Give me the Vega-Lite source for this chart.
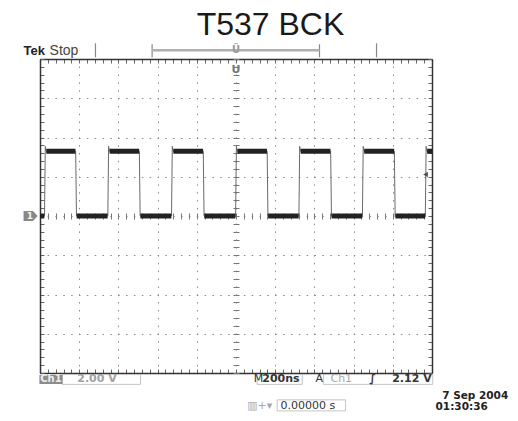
{
  "$schema": "https://vega.github.io/schema/vega-lite/v6.json",
  "width": 392,
  "height": 314,
  "autosize": {"type": "none"},
  "padding": {"left": 40, "top": 59, "right": 86, "bottom": 48},
  "background": "white",
  "config": {
    "view": {"stroke": null},
    "axis": {"labels": false, "grid": false, "domainColor": "#333", "domainWidth": 1.5, "tickColor": "#666", "tickWidth": 1, "gridColor": "#8a8a8a", "gridWidth": 1}
  },
  "resolve": {"axis": {"x": "independent", "y": "independent"}},
  "datasets": {
    "wave": [
      {"t": -1000, "v": 0}, {"t": -977, "v": 0}, {"t": -973, "v": 3.55}, {"t": -969, "v": 3.3}, {"t": -818, "v": 3.3}, {"t": -814, "v": 0},
      {"t": -654, "v": 0}, {"t": -650, "v": 3.55}, {"t": -646, "v": 3.3}, {"t": -493, "v": 3.3}, {"t": -489, "v": 0},
      {"t": -329, "v": 0}, {"t": -325, "v": 3.55}, {"t": -321, "v": 3.3}, {"t": -167, "v": 3.3}, {"t": -163, "v": 0},
      {"t": -2, "v": 0}, {"t": 2, "v": 3.55}, {"t": 6, "v": 3.3}, {"t": 159, "v": 3.3}, {"t": 163, "v": 0},
      {"t": 321, "v": 0}, {"t": 325, "v": 3.55}, {"t": 329, "v": 3.3}, {"t": 483, "v": 3.3}, {"t": 487, "v": 0},
      {"t": 645, "v": 0}, {"t": 649, "v": 3.55}, {"t": 653, "v": 3.3}, {"t": 808, "v": 3.3}, {"t": 812, "v": 0},
      {"t": 966, "v": 0}, {"t": 970, "v": 3.55}, {"t": 974, "v": 3.3}, {"t": 1000, "v": 3.3}
    ],
    "plateaus": [
      {"t1": -968, "t2": -819, "v": 3.3}, {"t1": -645, "t2": -494, "v": 3.3}, {"t1": -320, "t2": -168, "v": 3.3},
      {"t1": 7, "t2": 158, "v": 3.3}, {"t1": 330, "t2": 482, "v": 3.3}, {"t1": 654, "t2": 807, "v": 3.3}, {"t1": 975, "t2": 1000, "v": 3.3},
      {"t1": -1000, "t2": -978, "v": 0}, {"t1": -813, "t2": -655, "v": 0}, {"t1": -488, "t2": -330, "v": 0},
      {"t1": -162, "t2": -3, "v": 0}, {"t1": 164, "t2": 320, "v": 0}, {"t1": 488, "t2": 644, "v": 0}, {"t1": 813, "t2": 965, "v": 0}
    ],
    "boxes": [
      {"t1": -887, "t2": -487, "v1": -8.08, "v2": -8.58},
      {"t1": 108, "t2": 338, "v1": -8.08, "v2": -8.58},
      {"t1": 446, "t2": 1004, "v1": -8.08, "v2": -8.58},
      {"t1": 210, "t2": 559, "v1": -9.37, "v2": -9.93}
    ],
    "barTicks": [
      {"t": -717, "v1": 8.09, "v2": 8.8}, {"t": -428, "v1": 8.09, "v2": 8.75},
      {"t": 426, "v1": 8.09, "v2": 8.75}, {"t": 717, "v1": 8.09, "v2": 8.8}
    ],
    "barLine": [{"t1": -428, "t2": 426, "v": 8.45}]
  },
  "layer": [
    {
      "data": {"name": "boxes"},
      "mark": {"type": "rect", "fill": "transparent", "stroke": "#c4c4c4", "strokeWidth": 1},
      "encoding": {
        "x": {"field": "t1", "type": "quantitative", "scale": {"domain": [-1000, 1000], "nice": false, "zero": false},
              "axis": {"orient": "bottom", "title": null, "domain": false, "ticks": false, "grid": true, "gridDash": [1.5, 6.35], "gridDashOffset": 0.75,
                       "values": [-1000, -800, -600, -400, -200, 0, 200, 400, 600, 800, 1000]}},
        "x2": {"field": "t2"},
        "y": {"field": "v1", "type": "quantitative", "scale": {"domain": [-8, 8], "nice": false, "zero": false},
              "axis": {"orient": "left", "title": null, "domain": false, "ticks": false, "grid": true, "gridDash": [1.5, 6.35], "gridDashOffset": 0.75,
                       "values": [-8, -6, -4, -2, 0, 2, 4, 6, 8]}},
        "y2": {"field": "v2"}
      }
    },
    {
      "data": {"name": "barTicks"},
      "mark": {"type": "rule", "color": "#888", "strokeWidth": 1.2},
      "encoding": {
        "x": {"field": "t", "type": "quantitative",
              "axis": {"orient": "bottom", "offset": -157, "title": null, "domain": false, "tickSize": 3, "tickColor": "#777",
                       "values": [-1000,-960,-920,-880,-840,-800,-760,-720,-680,-640,-600,-560,-520,-480,-440,-400,-360,-320,-280,-240,-200,-160,-120,-80,-40,0,40,80,120,160,200,240,280,320,360,400,440,480,520,560,600,640,680,720,760,800,840,880,920,960,1000]}},
        "y": {"field": "v1", "type": "quantitative",
              "axis": {"orient": "left", "offset": -196, "title": null, "domain": false, "tickSize": 3, "tickColor": "#777",
                       "values": [-8,-7.6,-7.2,-6.8,-6.4,-6,-5.6,-5.2,-4.8,-4.4,-4,-3.6,-3.2,-2.8,-2.4,-2,-1.6,-1.2,-0.8,-0.4,0,0.4,0.8,1.2,1.6,2,2.4,2.8,3.2,3.6,4,4.4,4.8,5.2,5.6,6,6.4,6.8,7.2,7.6,8]}},
        "y2": {"field": "v2"}
      }
    },
    {
      "data": {"name": "barLine"},
      "mark": {"type": "rule", "color": "#b0b0b0", "strokeWidth": 2.5},
      "encoding": {
        "x": {"field": "t1", "type": "quantitative",
              "axis": {"orient": "top", "offset": -157, "title": null, "domain": false, "tickSize": 3, "tickColor": "#777",
                       "values": [-1000,-960,-920,-880,-840,-800,-760,-720,-680,-640,-600,-560,-520,-480,-440,-400,-360,-320,-280,-240,-200,-160,-120,-80,-40,0,40,80,120,160,200,240,280,320,360,400,440,480,520,560,600,640,680,720,760,800,840,880,920,960,1000]}},
        "x2": {"field": "t2"},
        "y": {"field": "v", "type": "quantitative",
              "axis": {"orient": "right", "offset": -196, "title": null, "domain": false, "tickSize": 3, "tickColor": "#777",
                       "values": [-8,-7.6,-7.2,-6.8,-6.4,-6,-5.6,-5.2,-4.8,-4.4,-4,-3.6,-3.2,-2.8,-2.4,-2,-1.6,-1.2,-0.8,-0.4,0,0.4,0.8,1.2,1.6,2,2.4,2.8,3.2,3.6,4,4.4,4.8,5.2,5.6,6,6.4,6.8,7.2,7.6,8]}}
      }
    },
    {
      "data": {"name": "wave"},
      "mark": {"type": "line", "color": "#6a6a6a", "strokeWidth": 1, "interpolate": "linear"},
      "encoding": {
        "x": {"field": "t", "type": "quantitative",
              "axis": {"orient": "bottom", "title": null, "domain": true, "tickSize": -4,
                       "values": [-1000,-960,-920,-880,-840,-800,-760,-720,-680,-640,-600,-560,-520,-480,-440,-400,-360,-320,-280,-240,-200,-160,-120,-80,-40,0,40,80,120,160,200,240,280,320,360,400,440,480,520,560,600,640,680,720,760,800,840,880,920,960,1000]}},
        "y": {"field": "v", "type": "quantitative",
              "axis": {"orient": "left", "title": null, "domain": true, "tickSize": -4,
                       "values": [-8,-7.6,-7.2,-6.8,-6.4,-6,-5.6,-5.2,-4.8,-4.4,-4,-3.6,-3.2,-2.8,-2.4,-2,-1.6,-1.2,-0.8,-0.4,0,0.4,0.8,1.2,1.6,2,2.4,2.8,3.2,3.6,4,4.4,4.8,5.2,5.6,6,6.4,6.8,7.2,7.6,8]}}
      }
    },
    {
      "data": {"name": "plateaus"},
      "mark": {"type": "rule", "color": "#222", "strokeWidth": 5},
      "encoding": {
        "x": {"field": "t1", "type": "quantitative",
              "axis": {"orient": "top", "title": null, "domain": true, "tickSize": -4,
                       "values": [-1000,-960,-920,-880,-840,-800,-760,-720,-680,-640,-600,-560,-520,-480,-440,-400,-360,-320,-280,-240,-200,-160,-120,-80,-40,0,40,80,120,160,200,240,280,320,360,400,440,480,520,560,600,640,680,720,760,800,840,880,920,960,1000]}},
        "x2": {"field": "t2"},
        "y": {"field": "v", "type": "quantitative",
              "axis": {"orient": "right", "title": null, "domain": true, "tickSize": -4,
                       "values": [-8,-7.6,-7.2,-6.8,-6.4,-6,-5.6,-5.2,-4.8,-4.4,-4,-3.6,-3.2,-2.8,-2.4,-2,-1.6,-1.2,-0.8,-0.4,0,0.4,0.8,1.2,1.6,2,2.4,2.8,3.2,3.6,4,4.4,4.8,5.2,5.6,6,6.4,6.8,7.2,7.6,8]}}
      }
    },
    {
      "data": {"values": [{"t1": -1003, "t2": -885, "v1": -8.1, "v2": -8.56}]},
      "mark": {"type": "rect", "fill": "#8c8c8c"},
      "encoding": {
        "x": {"field": "t1", "type": "quantitative", "axis": null},
        "x2": {"field": "t2"},
        "y": {"field": "v1", "type": "quantitative", "axis": null},
        "y2": {"field": "v2"}
      }
    },
    {
      "data": {"values": [{"t": -944, "v": -8.33, "label": "Ch1"}]},
      "mark": {"type": "text", "font": "DejaVu Sans", "fontWeight": "bold", "fontSize": 10, "color": "#eeeeee", "align": "center", "baseline": "middle"},
      "encoding": {"x": {"field": "t", "type": "quantitative", "axis": null}, "y": {"field": "v", "type": "quantitative", "axis": null}, "text": {"field": "label"}}
    },
    {
      "data": {"values": [{"t": 176, "v": 9.21, "label": "T537 BCK"}]},
      "mark": {"type": "text", "font": "Liberation Sans", "fontSize": 32, "color": "#1a1a1a", "align": "center", "baseline": "alphabetic"},
      "encoding": {"x": {"field": "t", "type": "quantitative", "axis": null}, "y": {"field": "v", "type": "quantitative", "axis": null}, "text": {"field": "label"}}
    },
    {
      "data": {"values": [{"t": -1084, "v": 8.19, "label": "Tek"}]},
      "mark": {"type": "text", "font": "Liberation Sans", "fontWeight": "bold", "fontSize": 13, "color": "#222", "align": "left", "baseline": "alphabetic"},
      "encoding": {"x": {"field": "t", "type": "quantitative", "axis": null}, "y": {"field": "v", "type": "quantitative", "axis": null}, "text": {"field": "label"}}
    },
    {
      "data": {"values": [{"t": -951, "v": 8.19, "label": "Stop"}]},
      "mark": {"type": "text", "font": "Liberation Sans", "fontSize": 14, "color": "#444", "align": "left", "baseline": "alphabetic"},
      "encoding": {"x": {"field": "t", "type": "quantitative", "axis": null}, "y": {"field": "v", "type": "quantitative", "axis": null}, "text": {"field": "label"}}
    },
    {
      "data": {"values": [{"t": 134, "v": -8.32, "label": "200ns"}, {"t": 797, "v": -8.32, "label": "2.12 V"}, {"t": 680, "v": -8.32, "label": "∫"}]},
      "mark": {"type": "text", "font": "DejaVu Sans", "fontWeight": "bold", "fontSize": 11, "color": "#333", "align": "left", "baseline": "middle"},
      "encoding": {"x": {"field": "t", "type": "quantitative", "axis": null}, "y": {"field": "v", "type": "quantitative", "axis": null}, "text": {"field": "label"}}
    },
    {
      "data": {"values": [{"t": 91, "v": -8.32, "label": "M"}, {"t": 406, "v": -8.32, "label": "A"}]},
      "mark": {"type": "text", "font": "DejaVu Sans", "fontSize": 11, "color": "#333", "align": "left", "baseline": "middle"},
      "encoding": {"x": {"field": "t", "type": "quantitative", "axis": null}, "y": {"field": "v", "type": "quantitative", "axis": null}, "text": {"field": "label"}}
    },
    {
      "data": {"values": [{"t": -810, "v": -8.32, "label": "2.00 V"}]},
      "mark": {"type": "text", "font": "DejaVu Sans", "fontWeight": "bold", "fontSize": 11, "color": "#a0a0a0", "align": "left", "baseline": "middle"},
      "encoding": {"x": {"field": "t", "type": "quantitative", "axis": null}, "y": {"field": "v", "type": "quantitative", "axis": null}, "text": {"field": "label"}}
    },
    {
      "data": {"values": [{"t": 482, "v": -8.32, "label": "Ch1"}, {"t": 57, "v": -9.68, "label": "▥+▾"}]},
      "mark": {"type": "text", "font": "DejaVu Sans", "fontSize": 11, "color": "#a8a8a8", "align": "left", "baseline": "middle"},
      "encoding": {"x": {"field": "t", "type": "quantitative", "axis": null}, "y": {"field": "v", "type": "quantitative", "axis": null}, "text": {"field": "label"}}
    },
    {
      "data": {"values": [{"t": 227, "v": -9.68, "label": "0.00000 s"}]},
      "mark": {"type": "text", "font": "DejaVu Sans", "fontSize": 11, "color": "#333", "align": "left", "baseline": "middle"},
      "encoding": {"x": {"field": "t", "type": "quantitative", "axis": null}, "y": {"field": "v", "type": "quantitative", "axis": null}, "text": {"field": "label"}}
    },
    {
      "data": {"values": [{"t": 1052, "v": -9.19, "label": "7 Sep  2004"}, {"t": 1018, "v": -9.75, "label": "01:30:36"}]},
      "mark": {"type": "text", "font": "DejaVu Sans", "fontWeight": "bold", "fontSize": 10.5, "color": "#222", "align": "left", "baseline": "middle"},
      "encoding": {"x": {"field": "t", "type": "quantitative", "axis": null}, "y": {"field": "v", "type": "quantitative", "axis": null}, "text": {"field": "label"}}
    },
    {
      "data": {"values": [{"t": 0, "v": 7.45, "label": "U"}]},
      "mark": {"type": "text", "font": "DejaVu Sans", "fontWeight": "bold", "fontSize": 11, "color": "#777", "align": "center", "baseline": "middle"},
      "encoding": {"x": {"field": "t", "type": "quantitative", "axis": null}, "y": {"field": "v", "type": "quantitative", "axis": null}, "text": {"field": "label"}}
    },
    {
      "data": {"values": [{"t": 0, "v": 8.45, "label": "Ü"}]},
      "mark": {"type": "text", "font": "DejaVu Sans", "fontWeight": "bold", "fontSize": 10, "color": "#999", "align": "center", "baseline": "middle"},
      "encoding": {"x": {"field": "t", "type": "quantitative", "axis": null}, "y": {"field": "v", "type": "quantitative", "axis": null}, "text": {"field": "label"}}
    },
    {
      "data": {"values": [{"t": -1048, "v": 0}]},
      "mark": {"type": "point", "shape": "M-1,-0.7L0.35,-0.7L1,0L0.35,0.7L-1,0.7Z", "size": 196, "filled": true, "color": "#888", "opacity": 1},
      "encoding": {"x": {"field": "t", "type": "quantitative", "axis": null}, "y": {"field": "v", "type": "quantitative", "axis": null}}
    },
    {
      "data": {"values": [{"t": -1052, "v": 0, "label": "1"}]},
      "mark": {"type": "text", "font": "DejaVu Sans", "fontWeight": "bold", "fontSize": 9, "color": "#f2f2f2", "align": "center", "baseline": "middle"},
      "encoding": {"x": {"field": "t", "type": "quantitative", "axis": null}, "y": {"field": "v", "type": "quantitative", "axis": null}, "text": {"field": "label"}}
    },
    {
      "data": {"values": [{"t": 967, "v": 2.12}]},
      "mark": {"type": "point", "shape": "triangle-left", "size": 30, "filled": true, "color": "#555", "opacity": 1},
      "encoding": {"x": {"field": "t", "type": "quantitative", "axis": null}, "y": {"field": "v", "type": "quantitative", "axis": null}}
    }
  ]
}
